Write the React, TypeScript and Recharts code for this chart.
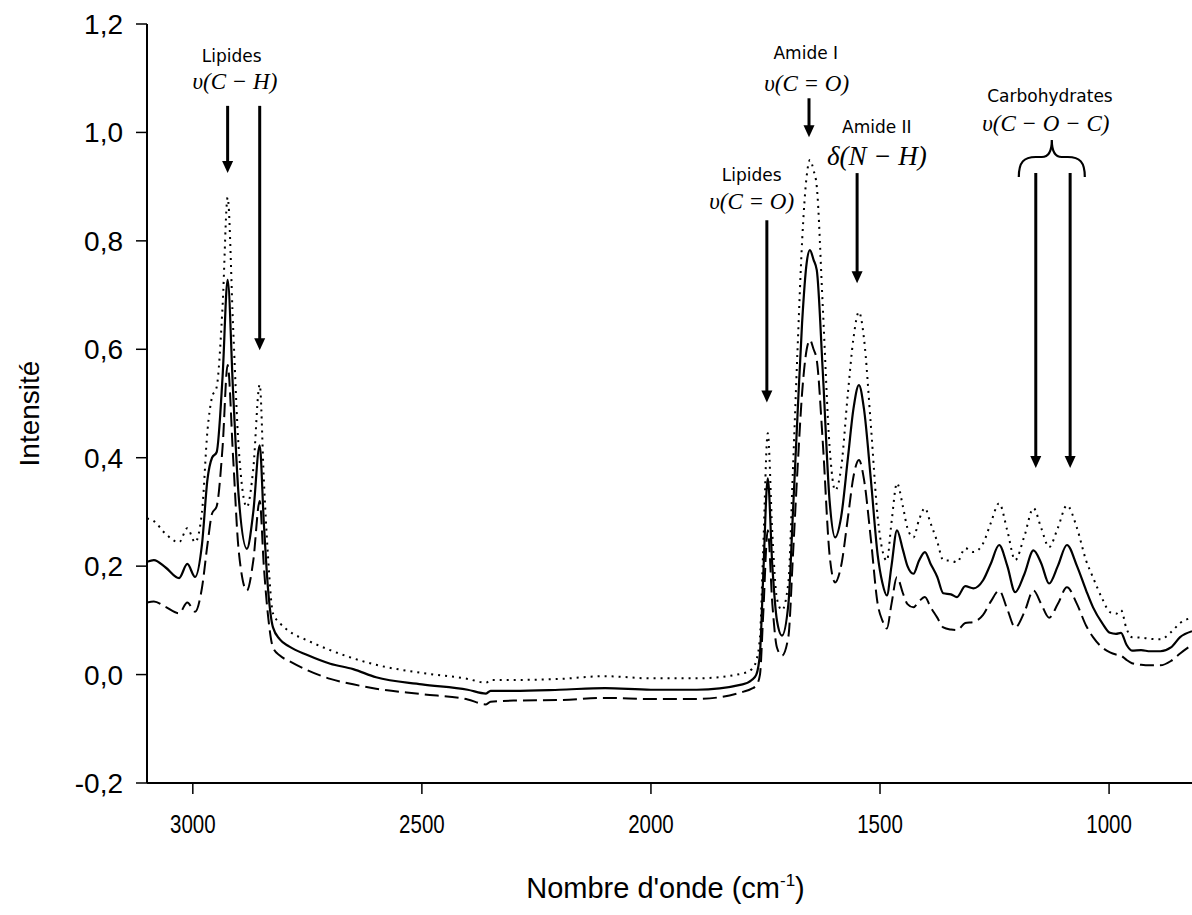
import { Label, Line, LineChart, ReferenceDot, ReferenceLine, XAxis, YAxis } from 'recharts'

// wavenumbers (cm-1), high to low
const wavenumbers = [
  3100, 3085, 3060, 3030, 3012, 2995, 2980, 2968, 2958, 2948, 2935, 2924, 2912, 2900, 2882, 2868, 2854, 2845,
  2836, 2825, 2810, 2790, 2750, 2700, 2650, 2600, 2500, 2400, 2360, 2350, 2300, 2200, 2100, 2000, 1900, 1800,
  1780, 1770, 1762, 1755, 1745, 1735, 1725, 1714, 1700, 1690, 1680, 1670, 1660, 1653, 1645, 1638, 1625, 1610,
  1598, 1585, 1570, 1558, 1546, 1535, 1520, 1505, 1495, 1485, 1475, 1463, 1450, 1440, 1427, 1415, 1402, 1390,
  1375, 1362, 1345, 1332, 1314, 1296, 1275, 1258, 1240, 1222, 1205, 1185, 1165, 1148, 1131, 1112, 1092, 1070,
  1050, 1035, 1015, 998, 985, 974, 962, 950, 930, 910, 888, 865, 845, 819,
]

const dottedValues = [
  0.288, 0.283, 0.26, 0.244, 0.27, 0.244, 0.3, 0.45, 0.512, 0.53, 0.68, 0.88, 0.64, 0.42, 0.309, 0.38, 0.535, 0.36,
  0.22, 0.113, 0.095, 0.08, 0.063, 0.045, 0.03, 0.018, 0.003, -0.008, -0.015, -0.01, -0.01, -0.008, -0.003, -0.007, -0.007, 0.002,
  0.01, 0.026, 0.07, 0.23, 0.445, 0.26, 0.14, 0.119, 0.17, 0.38, 0.6, 0.8, 0.92, 0.949, 0.93, 0.9, 0.68, 0.42,
  0.34, 0.38, 0.52, 0.62, 0.669, 0.62, 0.46, 0.29, 0.23, 0.21, 0.28, 0.353, 0.31, 0.27, 0.253, 0.285, 0.307, 0.28,
  0.245, 0.211, 0.21, 0.207, 0.233, 0.226, 0.242, 0.28, 0.316, 0.265, 0.211, 0.255, 0.307, 0.27, 0.235, 0.27, 0.312, 0.27,
  0.21, 0.179, 0.14, 0.115, 0.112, 0.119, 0.085, 0.069, 0.068, 0.066, 0.065, 0.078, 0.095, 0.105,
]

const solidValues = [
  0.208, 0.211, 0.198, 0.178, 0.204, 0.18, 0.24, 0.36, 0.4, 0.41, 0.55, 0.728, 0.52, 0.33, 0.232, 0.3, 0.423, 0.28,
  0.16, 0.087, 0.065, 0.052, 0.036, 0.02, 0.01, -0.005, -0.018, -0.028, -0.035, -0.03, -0.03, -0.028, -0.025, -0.028, -0.028, -0.018,
  -0.01, 0.0, 0.04, 0.18, 0.362, 0.2, 0.1, 0.072, 0.13, 0.3, 0.48, 0.65, 0.76, 0.783, 0.765, 0.746, 0.56, 0.32,
  0.253, 0.29, 0.4, 0.49, 0.534, 0.49, 0.36, 0.22, 0.17, 0.146, 0.2, 0.266, 0.23, 0.2, 0.186, 0.21, 0.226, 0.205,
  0.18, 0.15, 0.148, 0.143, 0.163, 0.159, 0.174, 0.205, 0.239, 0.2, 0.152, 0.185, 0.229, 0.205, 0.168, 0.2, 0.239, 0.2,
  0.155, 0.124, 0.095, 0.077, 0.075, 0.077, 0.055, 0.044, 0.045, 0.043, 0.043, 0.05, 0.069, 0.08,
]

const dashedValues = [
  0.133, 0.135, 0.125, 0.113, 0.133, 0.116, 0.16, 0.24, 0.297, 0.31, 0.42, 0.571, 0.4, 0.23, 0.155, 0.21, 0.32, 0.2,
  0.11, 0.05, 0.035, 0.025, 0.008, -0.008, -0.018, -0.026, -0.036, -0.046, -0.055, -0.05, -0.048, -0.047, -0.043, -0.045, -0.045, -0.032,
  -0.026, -0.02, 0.0, 0.11, 0.266, 0.13, 0.05, 0.035, 0.07, 0.22, 0.38, 0.52, 0.6, 0.617, 0.6, 0.58, 0.43, 0.22,
  0.17, 0.2, 0.29, 0.365, 0.396, 0.36, 0.25, 0.13, 0.1, 0.085, 0.13, 0.18, 0.15, 0.13, 0.124, 0.135, 0.143, 0.125,
  0.105, 0.087, 0.083, 0.082, 0.095, 0.097, 0.11, 0.135, 0.155, 0.12, 0.087, 0.115, 0.155, 0.13, 0.105, 0.13, 0.161, 0.13,
  0.09, 0.069, 0.05, 0.041, 0.037, 0.035, 0.027, 0.021, 0.018, 0.017, 0.017, 0.025, 0.039, 0.055,
]

const xTicks = [3000, 2500, 2000, 1500, 1000]
const yTicks = [-0.2, 0, 0.2, 0.4, 0.6, 0.8, 1.0, 1.2]

const data = wavenumbers.map((wn, i) => ({
  wn,
  dotted: dottedValues[i],
  solid: solidValues[i],
  dashed: dashedValues[i],
}))

// annotation arrows, in data units (wavenumber, top, tip)
const arrows = [
  { x: 2924, top: 1.049, tip: 0.925 },
  { x: 2854, top: 1.049, tip: 0.598 },
  { x: 1747, top: 0.838, tip: 0.502 },
  { x: 1655, top: 1.063, tip: 0.991 },
  { x: 1550, top: 0.925, tip: 0.722 },
  { x: 1160, top: 0.925, tip: 0.381 },
  { x: 1085, top: 0.925, tip: 0.381 },
]

const names = [
  { x: 2915, y: 1.139, text: 'Lipides' },
  { x: 1662, y: 1.145, text: 'Amide I' },
  { x: 1507, y: 1.008, text: 'Amide II' },
  { x: 1780, y: 0.919, text: 'Lipides' },
  { x: 1129, y: 1.065, text: 'Carbohydrates' },
]

const formulas = [
  { x: 2908, y: 1.089, text: 'υ(C − H)', size: 23 },
  { x: 1660, y: 1.086, text: 'υ(C = O)', size: 23 },
  { x: 1507, y: 0.952, text: 'δ(N − H)', size: 27 },
  { x: 1780, y: 0.869, text: 'υ(C = O)', size: 23 },
  { x: 1138, y: 1.012, text: 'υ(C − O − C)', size: 23 },
]

const fmt = (v: number) => v.toFixed(1).replace('.', ',')

const ArrowHead = (p: any) => (
  <polygon points={`${p.cx - 5.5},${p.cy - 12} ${p.cx + 5.5},${p.cy - 12} ${p.cx},${p.cy}`} fill="#000" />
)

const Brace = (p: any) => {
  const { cx, cy } = p
  const d = `M ${cx - 33} ${cy + 37} C ${cx - 33} ${cy + 22}, ${cx - 28} ${cy + 17}, ${cx - 16} ${cy + 17} L ${cx - 10} ${cy + 17} C ${cx - 3} ${cy + 17}, ${cx} ${cy + 10}, ${cx} ${cy}
    C ${cx} ${cy + 10}, ${cx + 3} ${cy + 17}, ${cx + 10} ${cy + 17} L ${cx + 16} ${cy + 17} C ${cx + 28} ${cy + 17}, ${cx + 33} ${cy + 22}, ${cx + 33} ${cy + 37}`
  return <path d={d} fill="none" stroke="#000" strokeWidth={2.2} />
}

const nameShape = (text: string) => (p: any) => (
  <text x={p.cx} y={p.cy} textAnchor="middle" dominantBaseline="middle" fontFamily="DejaVu Sans" fontSize={17} fill="#000">
    {text}
  </text>
)

const formulaShape = (text: string, size: number) => (p: any) => (
  <text x={p.cx} y={p.cy} textAnchor="middle" dominantBaseline="middle" fontFamily="Liberation Serif" fontStyle="italic" fontSize={size} fill="#000">
    {text}
  </text>
)

const XTick = (p: any) => (
  <text
    transform={`translate(${p.x}, ${p.y}) scale(0.82, 1.05)`}
    textAnchor="middle"
    dy="0.71em"
    fontFamily="Liberation Sans"
    fontSize={25}
    fill="#000"
  >
    {p.payload.value}
  </text>
)

const YTitle = (p: any) => {
  const x = 32
  const y = p.viewBox.y + p.viewBox.height / 2 + 10
  return (
    <text x={x} y={y} transform={`rotate(-90, ${x}, ${y})`} textAnchor="middle" dominantBaseline="middle" fontFamily="Liberation Sans" fontSize={28} fill="#000">
      Intensité
    </text>
  )
}

const XTitle = (p: any) => {
  const x = p.viewBox.x + p.viewBox.width / 2 - 4
  const y = 898
  return (
    <text x={x} y={y} textAnchor="middle" fontFamily="Liberation Sans" fontSize={29} fill="#000">
      Nombre d'onde (cm<tspan dy={-12} fontSize={17}>-1</tspan><tspan dy={12}>)</tspan>
    </text>
  )
}

export default function App() {
  return (
    <div style={{ position: 'absolute', left: 0, top: 0, background: '#fff' }}>
      <LineChart width={1192} height={915} data={data} margin={{ top: 24, right: 0, bottom: 0, left: 0 }}>
        <XAxis
          dataKey="wn"
          type="number"
          domain={[819, 3100]}
          reversed
          allowDataOverflow
          ticks={xTicks}
          height={132}
          tickSize={11}
          tickMargin={20}
          stroke="#000"
          axisLine={{ stroke: '#000', strokeWidth: 2 }}
          tickLine={{ stroke: '#000', strokeWidth: 1.5 }}
          tick={<XTick />}
        >
          <Label content={<XTitle />} />
        </XAxis>
        <XAxis
          xAxisId="top"
          orientation="top"
          type="number"
          domain={[819, 3100]}
          reversed
          height={0}
          tick={false}
          tickLine={false}
          axisLine={{ stroke: '#000', strokeWidth: 2 }}
        />
        <YAxis
          type="number"
          domain={[-0.2, 1.2]}
          ticks={yTicks}
          width={147}
          tickSize={11}
          tickMargin={13}
          tickFormatter={fmt}
          axisLine={{ stroke: '#000', strokeWidth: 2 }}
          tickLine={{ stroke: '#000', strokeWidth: 1.5 }}
          tick={{ fill: '#000', fontSize: 28, fontFamily: 'Liberation Sans' }}
        >
          <Label content={<YTitle />} />
        </YAxis>

        <Line type="monotone" dataKey="dotted" stroke="#000" strokeWidth={2} strokeDasharray="2 5" dot={false} isAnimationActive={false} />
        <Line type="monotone" dataKey="solid" stroke="#000" strokeWidth={2.2} dot={false} isAnimationActive={false} />
        <Line type="monotone" dataKey="dashed" stroke="#000" strokeWidth={2} strokeDasharray="14 6" dot={false} isAnimationActive={false} />

        {arrows.map((a, i) => (
          <ReferenceLine
            key={`s${i}`}
            segment={[{ x: a.x, y: a.top }, { x: a.x, y: a.tip + 0.01 }]}
            stroke="#000"
            strokeWidth={3}
          />
        ))}
        {arrows.map((a, i) => (
          <ReferenceDot key={`h${i}`} x={a.x} y={a.tip} r={0} shape={ArrowHead} />
        ))}
        <ReferenceDot x={1125} y={0.986} r={0} shape={Brace} />
        {names.map((n, i) => (
          <ReferenceDot key={`n${i}`} x={n.x} y={n.y} r={0} shape={nameShape(n.text)} />
        ))}
        {formulas.map((f, i) => (
          <ReferenceDot key={`f${i}`} x={f.x} y={f.y} r={0} shape={formulaShape(f.text, f.size)} />
        ))}
      </LineChart>
    </div>
  )
}
